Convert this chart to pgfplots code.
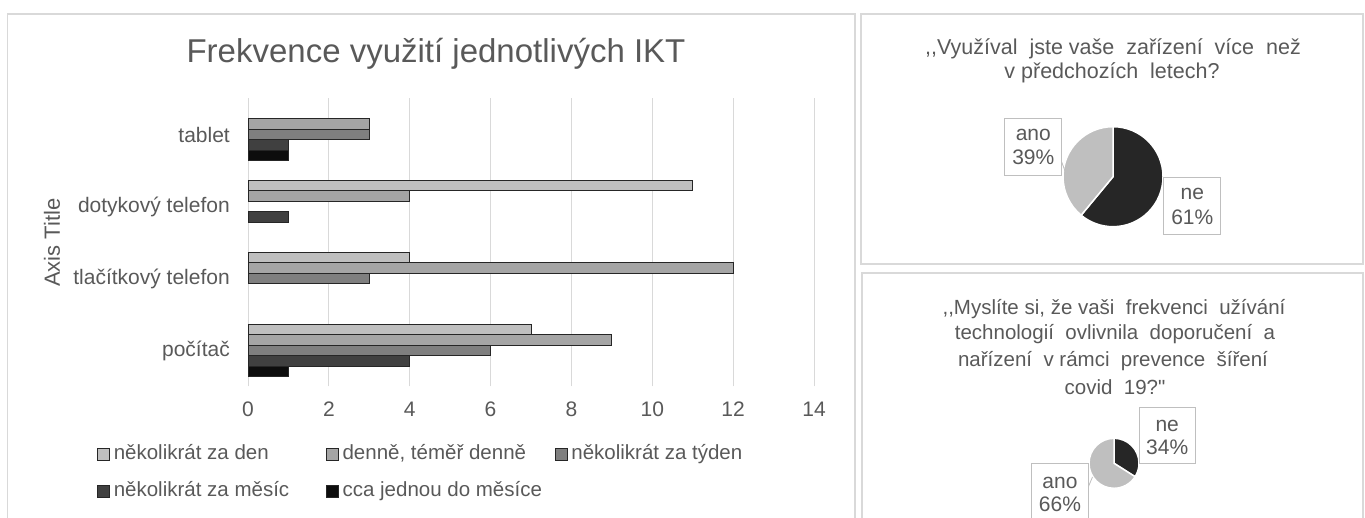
\documentclass[border=0pt]{standalone}
\usepackage{fontspec}
\setmainfont{Liberation Sans}
\newfontfamily\nomap{Liberation Sans}
\usepackage{pgfplots}
\usepackage{pgfplotstable}
\pgfplotsset{compat=1.18}
\definecolor{txt}{HTML}{595959}
\definecolor{gridc}{HTML}{D9D9D9}
\definecolor{framec}{HTML}{D9D9D9}
\definecolor{cA}{HTML}{BFBFBF}
\definecolor{cB}{HTML}{A5A5A5}
\definecolor{cC}{HTML}{7F7F7F}
\definecolor{cD}{HTML}{404040}
\definecolor{cE}{HTML}{0D0D0D}
\definecolor{edge}{HTML}{262626}
\definecolor{pieL}{HTML}{BFBFBF}
\definecolor{pieD}{HTML}{262626}
\definecolor{boxc}{HTML}{BFBFBF}
\newcommand\fs[2]{\fontsize{#1pt}{#2pt}\selectfont}

\pgfplotstableread{
y den denne tyden mesic cca
0 7 9 6 4 1
1 4 12 3 0 0
2 11 4 0 1 0
3 0 3 3 1 1
}\ikt

% pie data (percent)
\def\pieAne{61}\def\pieAano{39}
\def\pieBne{34}\def\pieBano{66}

\begin{document}
\begin{tikzpicture}[x=1pt,y=1pt]
% panel frames
\draw[framec, line width=1.3pt] (7.5,-10) -- (7.5,504) -- (855,504) -- (855,-10);
\draw[framec, line width=1.3pt] (861,254) rectangle (1363,504);
\draw[framec, line width=1.3pt] (862,-10) -- (862,245) -- (1363,245) -- (1363,-10);

% bar chart title
\node[anchor=base, text=txt, font=\fs{33}{39}, inner sep=0pt] at (436,455.3) {Frekvence využití jednotlivých IKT};

\begin{axis}[
  at={(248pt,131.5pt)}, anchor=south west,
  scale only axis, width=566pt, height=288pt,
  xmin=0, xmax=14, ymin=-0.5, ymax=3.5,
  axis line style={draw=none},
  major tick length=0pt,
  xtick={0,2,...,14}, ytick={0,1,2,3},
  yticklabels={počítač,tlačítkový telefon,dotykový telefon,tablet},
  xmajorgrids, major grid style={draw=gridc, line width=1pt},
  /pgf/number format/assume math mode=true,
  tick label style={text=txt, font=\fs{21}{25}},
  xticklabel style={inner sep=0pt, anchor=north, yshift=-15.2pt},
  yticklabel style={inner sep=0pt, anchor=east, xshift=-18pt},
  ylabel={Axis Title},
  ylabel style={at={(axis description cs:-0.3463,0.5)}, anchor=center, text=txt, font=\fs{22}{26}, inner sep=0pt},
  x filter/.expression={x==0 ? nan : x},
  unbounded coords=discard,
  legend columns=3,
  legend cell align=left,
  legend image code/.code={\draw[#1, line width=0.8pt] (0pt,-5.8pt) rectangle (12pt,5.8pt);},
  legend style={at={(axis description cs:-0.26678,-0.2030)}, anchor=north west,
    draw=none, fill=none, inner sep=0pt, outer sep=0pt, row sep=17.7pt,
    font=\fs{20.5}{24}, text=txt,
    nodes={inner sep=0pt, text height=15pt, text depth=4pt},
    /tikz/every odd column/.append style={column sep=4pt},
    /tikz/every even column/.append style={column sep=0pt}},
]
\addplot[xbar, bar width=10.5pt, bar shift=21pt, fill=cA, draw=edge, line width=0.9pt] table[x=den, y=y] {\ikt};
\addlegendentry{\makebox[212pt][l]{několikrát za den}}
\addplot[xbar, bar width=10.5pt, bar shift=10.5pt, fill=cB, draw=edge, line width=0.9pt] table[x=denne, y=y] {\ikt};
\addlegendentry{\makebox[212pt][l]{denně, téměř denně}}
\addplot[xbar, bar width=10.5pt, bar shift=0pt, fill=cC, draw=edge, line width=0.9pt] table[x=tyden, y=y] {\ikt};
\addlegendentry{několikrát za týden}
\addplot[xbar, bar width=10.5pt, bar shift=-10.5pt, fill=cD, draw=edge, line width=0.9pt] table[x=mesic, y=y] {\ikt};
\addlegendentry{\makebox[212pt][l]{několikrát za měsíc}}
\addplot[xbar, bar width=10.5pt, bar shift=-21pt, fill=cE, draw=edge, line width=0.9pt] table[x=cca, y=y] {\ikt};
\addlegendentry{cca jednou do měsíce}
\end{axis}

% ---- pie 1 ----
\node[anchor=base, text=txt, font=\fs{21.5}{25}, inner sep=0pt] at (1113,463) {,{},Využíval\ \ jste vaše\ \ zařízení\ \ více\ \ než};
\node[anchor=base, text=txt, font=\fs{21.5}{25}, inner sep=0pt] at (1112,439.7) {v předchozích\ \ letech?};
\begin{axis}[at={(1113pt,341.3pt)}, anchor=center, scale only axis, width=100pt, height=100pt,
  xmin=-1, xmax=1, ymin=-1, ymax=1, hide axis, clip=false]
\filldraw[fill=pieD, draw=white, line width=1.5pt] (axis cs:0,0) -- (axis cs:0,1) arc[start angle=90, end angle={90-3.6*\pieAne}, radius=50pt] -- cycle;
\filldraw[fill=pieL, draw=white, line width=1.5pt] (axis cs:0,0) -- (axis cs:0,1) arc[start angle=90, end angle={90+3.6*\pieAano}, radius=50pt] -- cycle;
\end{axis}
\draw[boxc, line width=0.8pt] (1061.7,356) -- (1065,347);
\node[draw=boxc, line width=1pt, fill=white, minimum width=56.7pt, minimum height=56.7pt, inner sep=0pt] at (1033.3,370.7) {};
\node[anchor=base, text=txt, font=\fs{21}{25}, inner sep=0pt] at (1033.3,377) {ano};
\node[anchor=base, text=txt, font=\fs{21}{25}, inner sep=0pt] at (1033.3,353) {\pieAano\%};
\node[draw=boxc, line width=1pt, fill=white, minimum width=56.7pt, minimum height=56.7pt, inner sep=0pt] at (1192.3,312) {};
\node[anchor=base, text=txt, font=\fs{21}{25}, inner sep=0pt] at (1192.3,318) {ne};
\node[anchor=base, text=txt, font=\fs{21}{25}, inner sep=0pt] at (1192.3,293) {\pieAne\%};

% ---- pie 2 ----
\node[anchor=base, text=txt, font=\fs{20.5}{25}, inner sep=0pt] at (1114,203.7) {,{},Myslíte si, že vaši\ \ frekvenci\ \ užívání};
\node[anchor=base, text=txt, font=\fs{20.5}{25}, inner sep=0pt] at (1115,178) {technologií\ \ ovlivnila\ \ doporučení\ \ a};
\node[anchor=base, text=txt, font=\fs{20.5}{25}, inner sep=0pt] at (1113,151.3) {nařízení\ \ v rámci\ \ prevence\ \ šíření};
\node[anchor=base, text=txt, font=\fs{20.5}{25}, inner sep=0pt] at (1115,123.7) {covid\ \ 19?{\nomap"}};
\begin{axis}[at={(1114pt,54.7pt)}, anchor=center, scale only axis, width=50pt, height=50pt,
  xmin=-1, xmax=1, ymin=-1, ymax=1, hide axis, clip=false]
\filldraw[fill=pieD, draw=white, line width=1.5pt] (axis cs:0,0) -- (axis cs:0,1) arc[start angle=90, end angle={90-3.6*\pieBne}, radius=25pt] -- cycle;
\filldraw[fill=pieL, draw=white, line width=1.5pt] (axis cs:0,0) -- (axis cs:0,1) arc[start angle=90, end angle={90+3.6*\pieBano}, radius=25pt] -- cycle;
\end{axis}
\draw[boxc, line width=0.8pt] (1087.7,29.7) -- (1092.5,41);
\node[draw=boxc, line width=1pt, fill=white, minimum width=55.7pt, minimum height=56.3pt, inner sep=0pt] at (1167.2,82.2) {};
\node[anchor=base, text=txt, font=\fs{21}{25}, inner sep=0pt] at (1167.2,86.3) {ne};
\node[anchor=base, text=txt, font=\fs{21}{25}, inner sep=0pt] at (1167.2,63) {\pieBne\%};
\node[draw=boxc, line width=1pt, fill=white, minimum width=56.7pt, minimum height=56.7pt, inner sep=0pt] at (1060,26.3) {};
\node[anchor=base, text=txt, font=\fs{21}{25}, inner sep=0pt] at (1060,29.7) {ano};
\node[anchor=base, text=txt, font=\fs{21}{25}, inner sep=0pt] at (1060,6.3) {\pieBano\%};

\pgfresetboundingbox
\useasboundingbox (0,0) rectangle (1365,518);
\end{tikzpicture}
\end{document}
